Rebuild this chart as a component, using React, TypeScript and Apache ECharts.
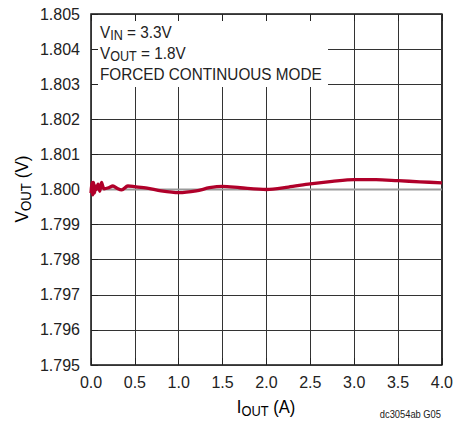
import React, { useEffect, useRef } from "react";
import * as echarts from "echarts";

// ---- data ----
const iout = [
  0, 0.01, 0.02, 0.03, 0.04, 0.05, 0.06, 0.08, 0.1, 0.12, 0.15, 0.2, 0.25, 0.3,
  0.35, 0.42, 0.5, 0.64, 0.8, 1.0, 1.2, 1.35, 1.5, 1.7, 2.0, 2.25, 2.5, 2.75,
  3.0, 3.25, 3.5, 3.75, 4.0,
];
const vout = [
  1.7999, 1.8002, 1.79985, 1.8002, 1.7999, 1.8001, 1.8, 1.80015, 1.79995,
  1.8002, 1.80002, 1.80005, 1.8001, 1.80003, 1.79999, 1.8001, 1.80008,
  1.80004, 1.79996, 1.79991, 1.79996, 1.80005, 1.80009, 1.80005, 1.8,
  1.80007, 1.80016, 1.80023, 1.80028, 1.80028, 1.80025, 1.80022, 1.80019,
];
const refLevel = 1.8;
const xMin = 0;
const xMax = 4;
const xStep = 0.5;
const yMin = 1.795;
const yMax = 1.805;
const yStep = 0.001;
const annotationLines = [
  ["V", "IN", " = 3.3V"],
  ["V", "OUT", " = 1.8V"],
  ["FORCED CONTINUOUS MODE", "", ""],
];
const xTitle = ["I", "OUT", " (A)"];
const yTitle = ["V", "OUT", " (V)"];
const footnote = "dc3054ab G05";

const FONT = "'Liberation Sans', Arial, sans-serif";
const TXT = "#222";

const richSub = (parts: string[]) =>
  `{m|${parts[0]}}` + (parts[1] ? `{s|${parts[1]}}` : "") + (parts[2] ? `{m|${parts[2]}}` : "");

export default function App() {
  const ref = useRef<HTMLDivElement>(null);
  useEffect(() => {
    if (!ref.current) return;
    const chart = echarts.init(ref.current, undefined, { renderer: "svg" });
    const G = { left: 91, top: 14, width: 351, height: 351 };
    const rich = {
      m: { fontSize: 17, lineHeight: 21, fontFamily: FONT, fill: TXT, color: TXT },
      s: { fontSize: 14, lineHeight: 10, verticalAlign: "bottom", fontFamily: FONT, fill: TXT, color: TXT },
    };
    const titleRich = {
      m: { fontSize: 18, lineHeight: 22, fontFamily: FONT, color: TXT },
      s: { fontSize: 14, lineHeight: 11, verticalAlign: "bottom", fontFamily: FONT, color: TXT },
    };
    const tickAxisCommon = {
      type: "value",
      min: xMin,
      max: xMax,
      interval: xStep,
      axisLine: { show: false },
      axisLabel: { show: false },
      splitLine: { show: false },
      axisTick: { show: true, inside: true, length: 7, lineStyle: { color: TXT, width: 1 } },
      z: 3,
    };
    chart.setOption({
      animation: false,
      grid: { ...G, show: true, borderColor: "#111", borderWidth: 1.5, backgroundColor: "transparent" },
      xAxis: [
        {
          type: "value",
          min: xMin,
          max: xMax,
          interval: xStep,
          axisLine: { show: false },
          axisTick: { show: false },
          axisLabel: {
            fontSize: 16,
            color: TXT,
            fontFamily: FONT,
            margin: 9,
            formatter: (v: number) => v.toFixed(1),
          },
          splitLine: { show: true, lineStyle: { color: "#333", width: 1 } },
          z: 0,
        },
        { ...tickAxisCommon, position: "bottom" },
        { ...tickAxisCommon, position: "top" },
      ],
      yAxis: [
        {
          type: "value",
          min: yMin,
          max: yMax,
          interval: yStep,
          axisLine: { show: false },
          axisTick: { show: false },
          axisLabel: {
            fontSize: 16,
            color: TXT,
            fontFamily: FONT,
            margin: 11,
            formatter: (v: number) => v.toFixed(3),
          },
          splitLine: { show: true, lineStyle: { color: "#333", width: 1 } },
          z: 0,
        },
        {
          type: "value",
          min: yMin,
          max: yMax,
          interval: yStep,
          position: "left",
          axisLine: { show: false },
          axisLabel: { show: false },
          splitLine: { show: false },
          axisTick: { show: true, inside: true, length: 7, lineStyle: { color: TXT, width: 1 } },
          z: 3,
        },
      ],
      series: [
        {
          type: "line",
          data: [
            [xMin, refLevel],
            [xMax, refLevel],
          ],
          showSymbol: false,
          silent: true,
          lineStyle: { color: "#9a9a9a", width: 2 },
          z: 4,
        },
        {
          type: "line",
          data: iout.map((x, i) => [x, vout[i]]),
          showSymbol: false,
          smooth: 0.3,
          lineStyle: { color: "#b0002a", width: 3.3 },
          z: 5,
        },
      ],
      graphic: [
        {
          type: "rect",
          shape: { x: 92, y: 15, width: 236, height: 72 },
          style: { fill: "#fff" },
          z: 1,
          silent: true,
        },
        ...annotationLines.map((parts, i) => ({
          type: "text",
          x: 100,
          y: [21, 42, 63][i],
          scaleX: 0.9,
          z: 6,
          style: {
            text: richSub(parts),
            rich,
            textAlign: "left",
            textVerticalAlign: "top",
          },
        })),
        {
          type: "text",
          x: 266,
          y: 407,
          scaleX: 0.92,
          z: 6,
          style: {
            text: richSub(xTitle),
            rich: titleRich,
            textAlign: "center",
            textVerticalAlign: "middle",
          },
        },
        {
          type: "text",
          x: 22,
          y: 189,
          rotation: Math.PI / 2,
          scaleX: 0.95,
          z: 6,
          style: {
            text: richSub(yTitle),
            rich: titleRich,
            textAlign: "center",
            textVerticalAlign: "middle",
          },
        },
        {
          type: "text",
          x: 441,
          y: 414,
          scaleX: 0.85,
          z: 6,
          style: {
            text: footnote,
            fontSize: 11,
            fontFamily: FONT,
            fill: TXT,
            textAlign: "right",
            textVerticalAlign: "middle",
          },
        },
      ],
    });
    return () => chart.dispose();
  }, []);
  return (
    <div
      ref={ref}
      style={{ position: "fixed", left: 0, top: 0, width: 456, height: 421, background: "#fff" }}
    />
  );
}
